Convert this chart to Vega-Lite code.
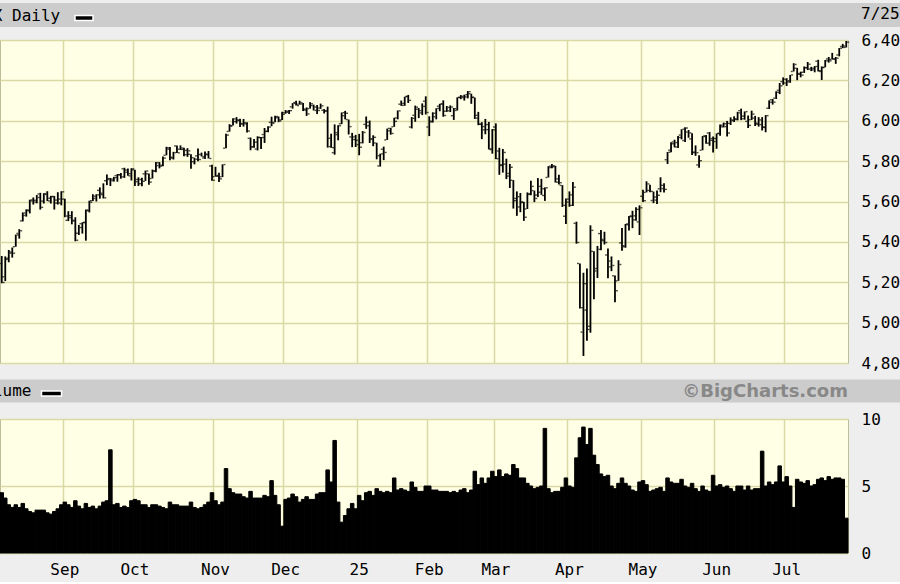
{
 "$schema": "https://vega.github.io/schema/vega-lite/v6.json",
 "background": "#EEEEEE",
 "padding": {"top": 3, "left": -2, "right": 0, "bottom": 4},
 "datasets": {
  "spx": [
{"d":"2024-08-07","o":5293,"h":5330,"l":5195,"c":5199,"v":4.5},
{"d":"2024-08-08","o":5227,"h":5328,"l":5206,"c":5319,"v":4.1},
{"d":"2024-08-09","o":5313,"h":5360,"l":5299,"c":5344,"v":3.6},
{"d":"2024-08-12","o":5350,"h":5372,"l":5322,"c":5344,"v":3.4},
{"d":"2024-08-13","o":5376,"h":5436,"l":5376,"c":5434,"v":3.6},
{"d":"2024-08-14","o":5442,"h":5463,"l":5416,"c":5455,"v":3.4},
{"d":"2024-08-15","o":5504,"h":5546,"l":5501,"c":5543,"v":3.7},
{"d":"2024-08-16","o":5531,"h":5561,"l":5525,"c":5554,"v":3.3},
{"d":"2024-08-19","o":5558,"h":5609,"l":5541,"c":5608,"v":3.1},
{"d":"2024-08-20","o":5603,"h":5620,"l":5585,"c":5597,"v":3.0},
{"d":"2024-08-21","o":5606,"h":5632,"l":5591,"c":5620,"v":3.2},
{"d":"2024-08-22","o":5637,"h":5643,"l":5560,"c":5571,"v":3.2},
{"d":"2024-08-23","o":5602,"h":5641,"l":5590,"c":5635,"v":3.2},
{"d":"2024-08-26","o":5639,"h":5651,"l":5602,"c":5616,"v":3.0},
{"d":"2024-08-27","o":5603,"h":5628,"l":5590,"c":5625,"v":2.9},
{"d":"2024-08-28","o":5624,"h":5627,"l":5560,"c":5592,"v":3.1},
{"d":"2024-08-29","o":5607,"h":5646,"l":5585,"c":5592,"v":3.3},
{"d":"2024-08-30","o":5612,"h":5651,"l":5581,"c":5648,"v":3.6},
{"d":"2024-09-03","o":5612,"h":5614,"l":5522,"c":5528,"v":3.8},
{"d":"2024-09-04","o":5507,"h":5552,"l":5503,"c":5520,"v":3.6},
{"d":"2024-09-05","o":5530,"h":5552,"l":5487,"c":5503,"v":3.4},
{"d":"2024-09-06","o":5507,"h":5522,"l":5403,"c":5408,"v":3.9},
{"d":"2024-09-09","o":5443,"h":5484,"l":5434,"c":5471,"v":3.5},
{"d":"2024-09-10","o":5490,"h":5497,"l":5441,"c":5496,"v":3.3},
{"d":"2024-09-11","o":5496,"h":5560,"l":5406,"c":5554,"v":3.7},
{"d":"2024-09-12","o":5558,"h":5604,"l":5546,"c":5596,"v":3.4},
{"d":"2024-09-13","o":5604,"h":5636,"l":5602,"c":5626,"v":3.5},
{"d":"2024-09-16","o":5615,"h":5636,"l":5600,"c":5633,"v":3.3},
{"d":"2024-09-17","o":5655,"h":5670,"l":5614,"c":5634,"v":3.5},
{"d":"2024-09-18","o":5641,"h":5690,"l":5615,"c":5618,"v":3.8},
{"d":"2024-09-19","o":5703,"h":5734,"l":5681,"c":5714,"v":3.9},
{"d":"2024-09-20","o":5709,"h":5716,"l":5677,"c":5703,"v":7.7},
{"d":"2024-09-23","o":5711,"h":5722,"l":5699,"c":5718,"v":3.6},
{"d":"2024-09-24","o":5728,"h":5736,"l":5698,"c":5732,"v":3.7},
{"d":"2024-09-25","o":5733,"h":5741,"l":5713,"c":5722,"v":3.4},
{"d":"2024-09-26","o":5762,"h":5767,"l":5717,"c":5745,"v":3.5},
{"d":"2024-09-27","o":5756,"h":5764,"l":5728,"c":5738,"v":3.4},
{"d":"2024-09-30","o":5727,"h":5765,"l":5704,"c":5762,"v":3.9},
{"d":"2024-10-01","o":5757,"h":5757,"l":5677,"c":5709,"v":4.0},
{"d":"2024-10-02","o":5698,"h":5720,"l":5677,"c":5709,"v":3.9},
{"d":"2024-10-03","o":5688,"h":5718,"l":5675,"c":5700,"v":3.6},
{"d":"2024-10-04","o":5737,"h":5753,"l":5702,"c":5751,"v":3.6},
{"d":"2024-10-07","o":5737,"h":5739,"l":5683,"c":5696,"v":3.4},
{"d":"2024-10-08","o":5714,"h":5758,"l":5714,"c":5751,"v":3.6},
{"d":"2024-10-09","o":5751,"h":5796,"l":5745,"c":5792,"v":3.6},
{"d":"2024-10-10","o":5778,"h":5795,"l":5764,"c":5780,"v":3.5},
{"d":"2024-10-11","o":5775,"h":5823,"l":5775,"c":5815,"v":3.4},
{"d":"2024-10-14","o":5829,"h":5871,"l":5829,"c":5859,"v":3.3},
{"d":"2024-10-15","o":5866,"h":5870,"l":5804,"c":5815,"v":3.8},
{"d":"2024-10-16","o":5819,"h":5846,"l":5808,"c":5842,"v":3.6},
{"d":"2024-10-17","o":5875,"h":5878,"l":5840,"c":5841,"v":3.6},
{"d":"2024-10-18","o":5859,"h":5878,"l":5855,"c":5865,"v":3.5},
{"d":"2024-10-21","o":5858,"h":5866,"l":5824,"c":5853,"v":3.5},
{"d":"2024-10-22","o":5832,"h":5864,"l":5821,"c":5851,"v":3.5},
{"d":"2024-10-23","o":5834,"h":5834,"l":5762,"c":5797,"v":3.8},
{"d":"2024-10-24","o":5817,"h":5817,"l":5784,"c":5809,"v":3.4},
{"d":"2024-10-25","o":5826,"h":5863,"l":5799,"c":5808,"v":3.3},
{"d":"2024-10-28","o":5833,"h":5842,"l":5823,"c":5823,"v":3.4},
{"d":"2024-10-29","o":5816,"h":5848,"l":5810,"c":5832,"v":3.6},
{"d":"2024-10-30","o":5835,"h":5850,"l":5813,"c":5813,"v":3.8},
{"d":"2024-10-31","o":5776,"h":5782,"l":5703,"c":5705,"v":4.5},
{"d":"2024-11-01","o":5723,"h":5772,"l":5723,"c":5729,"v":3.9},
{"d":"2024-11-04","o":5725,"h":5742,"l":5697,"c":5712,"v":3.6},
{"d":"2024-11-05","o":5722,"h":5784,"l":5721,"c":5783,"v":3.8},
{"d":"2024-11-06","o":5864,"h":5936,"l":5864,"c":5929,"v":6.3},
{"d":"2024-11-07","o":5947,"h":5983,"l":5946,"c":5973,"v":4.8},
{"d":"2024-11-08","o":5976,"h":6012,"l":5976,"c":5996,"v":4.5},
{"d":"2024-11-11","o":6009,"h":6018,"l":5986,"c":6001,"v":4.4},
{"d":"2024-11-12","o":6004,"h":6010,"l":5969,"c":5984,"v":4.4},
{"d":"2024-11-13","o":5986,"h":6009,"l":5971,"c":5985,"v":4.2},
{"d":"2024-11-14","o":5990,"h":5993,"l":5942,"c":5949,"v":4.1},
{"d":"2024-11-15","o":5913,"h":5917,"l":5854,"c":5871,"v":4.6},
{"d":"2024-11-18","o":5870,"h":5909,"l":5866,"c":5894,"v":4.1},
{"d":"2024-11-19","o":5860,"h":5923,"l":5853,"c":5917,"v":4.1},
{"d":"2024-11-20","o":5917,"h":5920,"l":5860,"c":5917,"v":4.1},
{"d":"2024-11-21","o":5932,"h":5964,"l":5890,"c":5948,"v":4.3},
{"d":"2024-11-22","o":5947,"h":5973,"l":5943,"c":5969,"v":4.2},
{"d":"2024-11-25","o":5992,"h":6020,"l":5973,"c":5987,"v":5.4},
{"d":"2024-11-26","o":5992,"h":6025,"l":5992,"c":6021,"v":4.3},
{"d":"2024-11-27","o":6015,"h":6021,"l":5993,"c":5999,"v":3.6},
{"d":"2024-11-29","o":6004,"h":6044,"l":6004,"c":6032,"v":2.0},
{"d":"2024-12-02","o":6040,"h":6053,"l":6035,"c":6047,"v":4.0},
{"d":"2024-12-03","o":6042,"h":6053,"l":6033,"c":6050,"v":4.1},
{"d":"2024-12-04","o":6069,"h":6087,"l":6060,"c":6086,"v":4.4},
{"d":"2024-12-05","o":6090,"h":6099,"l":6075,"c":6075,"v":4.2},
{"d":"2024-12-06","o":6082,"h":6099,"l":6080,"c":6090,"v":3.8},
{"d":"2024-12-09","o":6083,"h":6088,"l":6048,"c":6053,"v":4.0},
{"d":"2024-12-10","o":6058,"h":6066,"l":6024,"c":6034,"v":4.2},
{"d":"2024-12-11","o":6060,"h":6092,"l":6060,"c":6084,"v":4.0},
{"d":"2024-12-12","o":6075,"h":6080,"l":6051,"c":6051,"v":4.0},
{"d":"2024-12-13","o":6068,"h":6078,"l":6033,"c":6051,"v":4.4},
{"d":"2024-12-16","o":6063,"h":6085,"l":6059,"c":6074,"v":4.5},
{"d":"2024-12-17","o":6052,"h":6058,"l":6036,"c":6050,"v":4.5},
{"d":"2024-12-18","o":6047,"h":6070,"l":5867,"c":5872,"v":6.2},
{"d":"2024-12-19","o":5913,"h":5936,"l":5866,"c":5867,"v":5.3},
{"d":"2024-12-20","o":5842,"h":5982,"l":5832,"c":5931,"v":8.4},
{"d":"2024-12-23","o":5941,"h":5978,"l":5903,"c":5975,"v":3.8},
{"d":"2024-12-24","o":5985,"h":6041,"l":5983,"c":6040,"v":2.3},
{"d":"2024-12-26","o":6025,"h":6049,"l":6007,"c":6037,"v":2.8},
{"d":"2024-12-27","o":6006,"h":6006,"l":5932,"c":5971,"v":3.3},
{"d":"2024-12-30","o":5920,"h":5940,"l":5869,"c":5907,"v":3.7},
{"d":"2024-12-31","o":5920,"h":5930,"l":5870,"c":5882,"v":3.3},
{"d":"2025-01-02","o":5903,"h":5935,"l":5829,"c":5869,"v":4.3},
{"d":"2025-01-03","o":5891,"h":5949,"l":5888,"c":5942,"v":3.9},
{"d":"2025-01-06","o":5982,"h":6021,"l":5960,"c":5975,"v":4.5},
{"d":"2025-01-07","o":5993,"h":6001,"l":5890,"c":5909,"v":4.6},
{"d":"2025-01-08","o":5910,"h":5928,"l":5874,"c":5918,"v":4.3},
{"d":"2025-01-10","o":5890,"h":5891,"l":5809,"c":5827,"v":4.8},
{"d":"2025-01-13","o":5776,"h":5837,"l":5773,"c":5836,"v":4.6},
{"d":"2025-01-14","o":5859,"h":5872,"l":5805,"c":5843,"v":4.5},
{"d":"2025-01-15","o":5905,"h":5961,"l":5905,"c":5950,"v":4.6},
{"d":"2025-01-16","o":5962,"h":5965,"l":5931,"c":5937,"v":4.5},
{"d":"2025-01-17","o":5970,"h":6015,"l":5970,"c":5997,"v":5.6},
{"d":"2025-01-21","o":6014,"h":6051,"l":6007,"c":6049,"v":4.7},
{"d":"2025-01-22","o":6082,"h":6100,"l":6074,"c":6086,"v":4.8},
{"d":"2025-01-23","o":6076,"h":6119,"l":6074,"c":6119,"v":4.7},
{"d":"2025-01-24","o":6121,"h":6128,"l":6088,"c":6101,"v":4.6},
{"d":"2025-01-27","o":5969,"h":6018,"l":5962,"c":6012,"v":5.3},
{"d":"2025-01-28","o":6027,"h":6075,"l":5995,"c":6067,"v":4.9},
{"d":"2025-01-29","o":6057,"h":6063,"l":6013,"c":6039,"v":4.6},
{"d":"2025-01-30","o":6050,"h":6086,"l":6028,"c":6071,"v":4.6},
{"d":"2025-01-31","o":6097,"h":6121,"l":6031,"c":6041,"v":5.0},
{"d":"2025-02-03","o":5969,"h":6022,"l":5924,"c":5994,"v":5.0},
{"d":"2025-02-04","o":5998,"h":6042,"l":5991,"c":6037,"v":4.7},
{"d":"2025-02-05","o":6020,"h":6062,"l":6007,"c":6061,"v":4.7},
{"d":"2025-02-06","o":6072,"h":6084,"l":6047,"c":6083,"v":4.6},
{"d":"2025-02-07","o":6083,"h":6101,"l":6020,"c":6026,"v":4.6},
{"d":"2025-02-10","o":6047,"h":6073,"l":6044,"c":6066,"v":4.6},
{"d":"2025-02-11","o":6049,"h":6076,"l":6043,"c":6068,"v":4.5},
{"d":"2025-02-12","o":6025,"h":6063,"l":6004,"c":6051,"v":4.6},
{"d":"2025-02-13","o":6060,"h":6116,"l":6051,"c":6115,"v":4.5},
{"d":"2025-02-14","o":6116,"h":6127,"l":6107,"c":6115,"v":4.7},
{"d":"2025-02-18","o":6121,"h":6129,"l":6100,"c":6129,"v":4.8},
{"d":"2025-02-19","o":6118,"h":6147,"l":6111,"c":6144,"v":4.5},
{"d":"2025-02-20","o":6134,"h":6134,"l":6084,"c":6117,"v":4.7},
{"d":"2025-02-21","o":6115,"h":6115,"l":6009,"c":6013,"v":6.1},
{"d":"2025-02-24","o":6027,"h":6044,"l":5978,"c":5983,"v":5.1},
{"d":"2025-02-25","o":5983,"h":5993,"l":5909,"c":5955,"v":5.6},
{"d":"2025-02-26","o":5971,"h":6009,"l":5933,"c":5956,"v":5.2},
{"d":"2025-02-27","o":5981,"h":5994,"l":5858,"c":5861,"v":5.6},
{"d":"2025-02-28","o":5857,"h":5959,"l":5837,"c":5955,"v":6.1},
{"d":"2025-03-03","o":5969,"h":5987,"l":5810,"c":5850,"v":5.7},
{"d":"2025-03-04","o":5812,"h":5866,"l":5732,"c":5778,"v":6.2},
{"d":"2025-03-05","o":5782,"h":5860,"l":5743,"c":5843,"v":5.7},
{"d":"2025-03-06","o":5785,"h":5812,"l":5711,"c":5739,"v":5.9},
{"d":"2025-03-07","o":5726,"h":5786,"l":5667,"c":5770,"v":5.8},
{"d":"2025-03-10","o":5705,"h":5706,"l":5565,"c":5615,"v":6.6},
{"d":"2025-03-11","o":5604,"h":5650,"l":5529,"c":5573,"v":6.3},
{"d":"2025-03-12","o":5624,"h":5642,"l":5547,"c":5599,"v":5.6},
{"d":"2025-03-13","o":5595,"h":5598,"l":5504,"c":5522,"v":5.6},
{"d":"2025-03-14","o":5563,"h":5645,"l":5563,"c":5639,"v":5.2},
{"d":"2025-03-17","o":5635,"h":5703,"l":5631,"c":5675,"v":5.0},
{"d":"2025-03-18","o":5654,"h":5654,"l":5597,"c":5615,"v":4.8},
{"d":"2025-03-19","o":5632,"h":5716,"l":5622,"c":5675,"v":4.9},
{"d":"2025-03-20","o":5646,"h":5712,"l":5633,"c":5663,"v":5.0},
{"d":"2025-03-21","o":5630,"h":5670,"l":5603,"c":5668,"v":9.3},
{"d":"2025-03-24","o":5719,"h":5775,"l":5719,"c":5768,"v":4.8},
{"d":"2025-03-25","o":5775,"h":5786,"l":5765,"c":5777,"v":4.5},
{"d":"2025-03-26","o":5772,"h":5777,"l":5694,"c":5712,"v":4.6},
{"d":"2025-03-27","o":5696,"h":5733,"l":5684,"c":5693,"v":4.6},
{"d":"2025-03-28","o":5680,"h":5681,"l":5573,"c":5581,"v":4.9},
{"d":"2025-03-31","o":5527,"h":5615,"l":5489,"c":5612,"v":5.6},
{"d":"2025-04-01","o":5597,"h":5650,"l":5574,"c":5633,"v":5.0},
{"d":"2025-04-02","o":5581,"h":5696,"l":5578,"c":5671,"v":4.9},
{"d":"2025-04-03","o":5492,"h":5500,"l":5391,"c":5397,"v":7.1},
{"d":"2025-04-04","o":5293,"h":5293,"l":5070,"c":5074,"v":8.6},
{"d":"2025-04-07","o":4953,"h":5247,"l":4835,"c":5062,"v":9.4},
{"d":"2025-04-08","o":5193,"h":5268,"l":4910,"c":4982,"v":8.1},
{"d":"2025-04-09","o":4966,"h":5482,"l":4950,"c":5457,"v":9.3},
{"d":"2025-04-10","o":5353,"h":5353,"l":5116,"c":5268,"v":7.3},
{"d":"2025-04-11","o":5256,"h":5380,"l":5221,"c":5363,"v":6.6},
{"d":"2025-04-14","o":5441,"h":5459,"l":5358,"c":5406,"v":5.9},
{"d":"2025-04-15","o":5412,"h":5450,"l":5387,"c":5397,"v":5.7},
{"d":"2025-04-16","o":5335,"h":5367,"l":5220,"c":5276,"v":5.8},
{"d":"2025-04-17","o":5305,"h":5328,"l":5255,"c":5283,"v":5.0},
{"d":"2025-04-21","o":5232,"h":5233,"l":5101,"c":5158,"v":4.8},
{"d":"2025-04-22","o":5207,"h":5309,"l":5207,"c":5288,"v":5.2},
{"d":"2025-04-23","o":5395,"h":5469,"l":5356,"c":5376,"v":5.6},
{"d":"2025-04-24","o":5381,"h":5489,"l":5371,"c":5485,"v":5.2},
{"d":"2025-04-25","o":5489,"h":5528,"l":5456,"c":5525,"v":5.0},
{"d":"2025-04-28","o":5529,"h":5554,"l":5468,"c":5529,"v":4.7},
{"d":"2025-04-29","o":5509,"h":5572,"l":5505,"c":5561,"v":4.6},
{"d":"2025-04-30","o":5499,"h":5581,"l":5434,"c":5569,"v":5.3},
{"d":"2025-05-01","o":5626,"h":5658,"l":5597,"c":5604,"v":5.4},
{"d":"2025-05-02","o":5645,"h":5700,"l":5645,"c":5687,"v":5.1},
{"d":"2025-05-05","o":5655,"h":5683,"l":5646,"c":5650,"v":4.6},
{"d":"2025-05-06","o":5605,"h":5649,"l":5592,"c":5607,"v":4.7},
{"d":"2025-05-07","o":5622,"h":5655,"l":5587,"c":5631,"v":4.8},
{"d":"2025-05-08","o":5663,"h":5720,"l":5646,"c":5664,"v":4.9},
{"d":"2025-05-09","o":5680,"h":5691,"l":5644,"c":5660,"v":4.6},
{"d":"2025-05-12","o":5807,"h":5845,"l":5786,"c":5844,"v":5.6},
{"d":"2025-05-13","o":5854,"h":5893,"l":5844,"c":5886,"v":5.3},
{"d":"2025-05-14","o":5895,"h":5906,"l":5868,"c":5892,"v":5.2},
{"d":"2025-05-15","o":5870,"h":5925,"l":5865,"c":5917,"v":5.2},
{"d":"2025-05-16","o":5929,"h":5958,"l":5908,"c":5958,"v":5.5},
{"d":"2025-05-19","o":5902,"h":5968,"l":5895,"c":5964,"v":5.0},
{"d":"2025-05-20","o":5944,"h":5954,"l":5916,"c":5940,"v":4.9},
{"d":"2025-05-21","o":5910,"h":5938,"l":5830,"c":5845,"v":5.2},
{"d":"2025-05-22","o":5842,"h":5878,"l":5826,"c":5842,"v":4.8},
{"d":"2025-05-23","o":5781,"h":5829,"l":5767,"c":5802,"v":4.6},
{"d":"2025-05-27","o":5854,"h":5924,"l":5854,"c":5922,"v":5.0},
{"d":"2025-05-28","o":5925,"h":5930,"l":5886,"c":5889,"v":4.7},
{"d":"2025-05-29","o":5939,"h":5944,"l":5876,"c":5912,"v":4.6},
{"d":"2025-05-30","o":5903,"h":5922,"l":5843,"c":5912,"v":5.8},
{"d":"2025-06-02","o":5897,"h":5937,"l":5861,"c":5936,"v":5.0},
{"d":"2025-06-03","o":5938,"h":5981,"l":5926,"c":5970,"v":5.1},
{"d":"2025-06-04","o":5978,"h":5991,"l":5967,"c":5971,"v":4.9},
{"d":"2025-06-05","o":5985,"h":5999,"l":5922,"c":5939,"v":5.0},
{"d":"2025-06-06","o":5987,"h":6017,"l":5979,"c":6000,"v":4.8},
{"d":"2025-06-09","o":6004,"h":6022,"l":5994,"c":6006,"v":4.6},
{"d":"2025-06-10","o":6010,"h":6044,"l":6002,"c":6039,"v":5.0},
{"d":"2025-06-11","o":6050,"h":6060,"l":6003,"c":6023,"v":5.0},
{"d":"2025-06-12","o":6010,"h":6046,"l":6005,"c":6045,"v":4.7},
{"d":"2025-06-13","o":5997,"h":6026,"l":5964,"c":5977,"v":5.0},
{"d":"2025-06-16","o":6005,"h":6050,"l":6004,"c":6033,"v":4.7},
{"d":"2025-06-17","o":6013,"h":6024,"l":5974,"c":5983,"v":4.8},
{"d":"2025-06-18","o":5988,"h":6018,"l":5971,"c":5981,"v":4.8},
{"d":"2025-06-20","o":6004,"h":6018,"l":5952,"c":5967,"v":7.6},
{"d":"2025-06-23","o":5969,"h":6028,"l":5943,"c":6025,"v":5.0},
{"d":"2025-06-24","o":6062,"h":6101,"l":6058,"c":6092,"v":5.3},
{"d":"2025-06-25","o":6104,"h":6108,"l":6080,"c":6092,"v":5.1},
{"d":"2025-06-26","o":6112,"h":6146,"l":6108,"c":6141,"v":5.3},
{"d":"2025-06-27","o":6151,"h":6187,"l":6132,"c":6173,"v":6.5},
{"d":"2025-06-30","o":6194,"h":6215,"l":6178,"c":6205,"v":5.3},
{"d":"2025-07-01","o":6187,"h":6211,"l":6172,"c":6198,"v":5.7},
{"d":"2025-07-02","o":6192,"h":6227,"l":6188,"c":6227,"v":5.0},
{"d":"2025-07-03","o":6244,"h":6285,"l":6244,"c":6279,"v":3.4},
{"d":"2025-07-07","o":6260,"h":6262,"l":6201,"c":6230,"v":5.5},
{"d":"2025-07-08","o":6234,"h":6243,"l":6215,"c":6226,"v":5.3},
{"d":"2025-07-09","o":6240,"h":6269,"l":6237,"c":6263,"v":5.2},
{"d":"2025-07-10","o":6263,"h":6291,"l":6251,"c":6280,"v":5.4},
{"d":"2025-07-11","o":6256,"h":6267,"l":6246,"c":6260,"v":5.0},
{"d":"2025-07-14","o":6252,"h":6271,"l":6240,"c":6269,"v":5.1},
{"d":"2025-07-15","o":6295,"h":6302,"l":6244,"c":6244,"v":5.5},
{"d":"2025-07-16","o":6248,"h":6269,"l":6202,"c":6264,"v":5.6},
{"d":"2025-07-17","o":6264,"h":6301,"l":6265,"c":6297,"v":5.4},
{"d":"2025-07-18","o":6306,"h":6316,"l":6288,"c":6297,"v":5.7},
{"d":"2025-07-21","o":6304,"h":6336,"l":6303,"c":6306,"v":5.5},
{"d":"2025-07-22","o":6306,"h":6316,"l":6282,"c":6310,"v":5.6},
{"d":"2025-07-23","o":6326,"h":6360,"l":6319,"c":6359,"v":5.6},
{"d":"2025-07-24","o":6368,"h":6381,"l":6360,"c":6363,"v":5.5},
{"d":"2025-07-25","o":6370,"h":6395,"l":6363,"c":6389,"v":2.6}
  ]
 },
 "spacing": 13,
 "bounds": "flush",
 "vconcat": [
  {
   "width": 900,
   "height": 24,
   "view": {"fill": "#CCCCCC", "stroke": null},
   "data": {"values": [{"t": "SPX Daily", "r": "7/25"}]},
   "layer": [
    {"mark": {"type": "text", "align": "left", "baseline": "middle", "font": "DejaVu Sans Mono", "fontSize": 16, "color": "#000000", "clip": true},
     "encoding": {"x": {"value": -26.5}, "y": {"value": 12.5}, "text": {"field": "t"}}},
    {"mark": {"type": "rect", "fill": "#000000", "stroke": "#FFFFFF", "strokeWidth": 1.5},
     "encoding": {"x": {"value": 75}, "x2": {"value": 93}, "y": {"value": 12.5}, "y2": {"value": 17.5}}},
    {"mark": {"type": "text", "align": "left", "baseline": "middle", "font": "DejaVu Sans Mono", "fontSize": 16, "color": "#000000"},
     "encoding": {"x": {"value": 861}, "y": {"value": 11}, "text": {"field": "r"}}}
   ]
  },
  {
   "spacing": 16.5,
   "bounds": "flush",
   "vconcat": [
    {
     "width": 848,
     "height": 323,
     "data": {"name": "spx"},
     "view": {"fill": "#FFFFE6", "stroke": "#BDBD9A"},
     "encoding": {
      "x": {"field": "d", "type": "ordinal",
            "scale": {"type": "band", "paddingInner": 0, "paddingOuter": 0},
            "axis": {"values": ["2024-09-03","2024-10-01","2024-11-01","2024-12-02","2025-01-02","2025-02-03","2025-03-03","2025-04-01","2025-05-01","2025-06-02","2025-07-01"],
                     "labels": false, "ticks": false, "domain": false, "grid": true, "title": null, "bandPosition": 0}}
     },
     "layer": [
      {"mark": {"type": "rule", "color": "#000000", "strokeWidth": 1.8},
       "encoding": {
        "y": {"field": "l", "type": "quantitative",
              "scale": {"domain": [4800, 6400], "nice": false, "zero": false},
              "axis": {"orient": "right", "values": [4800,5000,5200,5400,5600,5800,6000,6200,6400], "format": ",.0f", "title": null, "grid": true, "labelPadding": 13}},
        "y2": {"field": "h"}}},
      {"mark": {"type": "tick", "orient": "horizontal", "color": "#000000", "size": 2, "thickness": 1.4, "xOffset": -1.9},
       "encoding": {"y": {"field": "o", "type": "quantitative",
              "scale": {"domain": [4800, 6400], "nice": false, "zero": false},
              "axis": {"orient": "right", "values": [4800,5000,5200,5400,5600,5800,6000,6200,6400], "format": ",.0f", "title": null, "grid": true, "labelPadding": 13}}}},
      {"mark": {"type": "tick", "orient": "horizontal", "color": "#000000", "size": 2, "thickness": 1.4, "xOffset": 1.9},
       "encoding": {"y": {"field": "c", "type": "quantitative",
              "scale": {"domain": [4800, 6400], "nice": false, "zero": false},
              "axis": {"orient": "right", "values": [4800,5000,5200,5400,5600,5800,6000,6200,6400], "format": ",.0f", "title": null, "grid": true, "labelPadding": 13}}}}
     ]
    },
    {
     "width": 900,
     "height": 23,
     "view": {"fill": "#CCCCCC", "stroke": null},
     "data": {"values": [{"t": "Volume", "r": "©BigCharts.com"}]},
     "layer": [
      {"mark": {"type": "text", "align": "right", "baseline": "middle", "font": "DejaVu Sans Mono", "fontSize": 16, "color": "#000000", "clip": true},
       "encoding": {"x": {"value": 31.5}, "y": {"value": 11.5}, "text": {"field": "t"}}},
      {"mark": {"type": "rect", "fill": "#000000", "stroke": "#FFFFFF", "strokeWidth": 1.5},
       "encoding": {"x": {"value": 41.5}, "x2": {"value": 61.5}, "y": {"value": 11.5}, "y2": {"value": 16.5}}},
      {"mark": {"type": "text", "align": "right", "baseline": "middle", "font": "DejaVu Sans", "fontWeight": "bold", "fontSize": 18, "color": "#888888"},
       "encoding": {"x": {"value": 848}, "y": {"value": 12}, "text": {"field": "r"}}}
     ]
    },
    {
     "width": 848,
     "height": 134,
     "data": {"name": "spx"},
     "view": {"fill": "#FFFFE6", "stroke": "#BDBD9A"},
     "mark": {"type": "bar", "color": "#000000", "stroke": "#000000", "strokeWidth": 1},
     "encoding": {
      "x": {"field": "d", "type": "ordinal",
            "scale": {"type": "band", "paddingInner": 0, "paddingOuter": 0},
            "axis": {"values": ["2024-09-03","2024-10-01","2024-11-01","2024-12-02","2025-01-02","2025-02-03","2025-03-03","2025-04-01","2025-05-01","2025-06-02","2025-07-01"],
                     "labelExpr": "datum.value == '2025-01-02' ? '25' : utcFormat(toDate(datum.value), '%b')",
                     "labelAngle": 0, "labelAlign": "center", "labelBaseline": "top", "labelPadding": 8,
                     "ticks": false, "domain": false, "grid": true, "title": null, "bandPosition": 0}},
      "y": {"field": "v", "type": "quantitative",
            "scale": {"domain": [0, 10], "nice": false},
            "axis": {"orient": "right", "values": [0, 5, 10], "format": ",.0f", "title": null, "grid": true, "labelPadding": 13}}
     }
    }
   ]
  }
 ],
 "config": {
  "axis": {
   "gridColor": "#D9D9A6",
   "gridWidth": 1.5,
   "gridOpacity": 1,
   "labelFont": "DejaVu Sans Mono",
   "labelFontSize": 16,
   "labelColor": "#000000",
   "ticks": false,
   "tickSize": 0,
   "domain": false,
   "labelOverlap": false
  }
 }
}
